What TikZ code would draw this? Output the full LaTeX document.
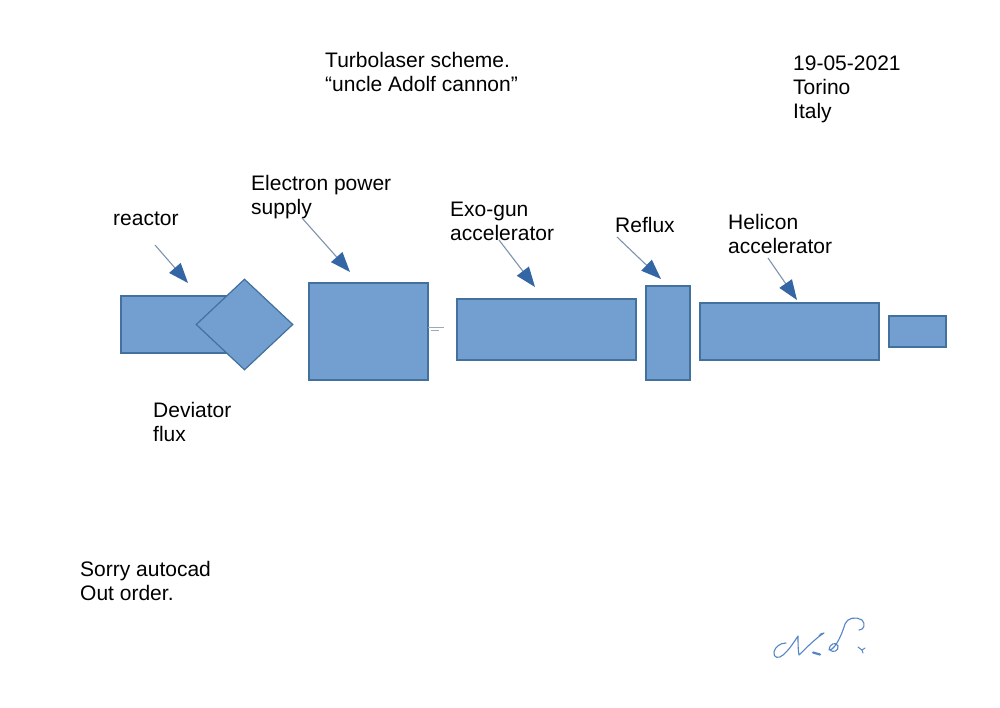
\documentclass[tikz,border=0pt]{standalone}
\usepackage{fontspec}
\setmainfont{Liberation Sans}
\usetikzlibrary{arrows.meta,shapes.geometric}
\definecolor{boxfill}{HTML}{729FCF}
\definecolor{boxline}{HTML}{41719C}
\definecolor{tipblue}{HTML}{3465A4}
\definecolor{shaft}{HTML}{7F93AD}
\definecolor{sig}{HTML}{5585C6}
\begin{document}
\begin{tikzpicture}[x=1pt,y=-1pt,
  box/.style={draw=boxline,fill=boxfill,line width=1.2pt,inner sep=0pt},
  lbl/.style={anchor=base west,inner sep=0pt,font=\fontsize{21}{24}\selectfont,align=left},
  ptr/.style={draw=shaft,line width=1.1pt,-{Triangle[length=20pt,width=15pt,color=tipblue]}},
  tick/.style={draw=shaft!80,line width=1pt},
  sigline/.style={draw=sig,line width=1.1pt,line cap=round,line join=round}]
\useasboundingbox (0,0) rectangle (1000,707);
\fill[white] (0,0) rectangle (1000,707);

% texts (base anchor = baseline of the last line)
\node[lbl] (title) at (325,91) {Turbolaser scheme.\\“uncle Adolf cannon”};
\node[lbl] (date) at (793,118) {19-05-2021\\Torino\\Italy};
\node[lbl] (lreactor) at (113,225) {reactor};
\node[lbl] (leps) at (251,214) {Electron power\\supply};
\node[lbl] (lexo) at (450,240) {Exo-gun\\accelerator};
\node[lbl] (lreflux) at (615,232) {Reflux};
\node[lbl] (lhel) at (728,253) {Helicon\\accelerator};
\node[lbl] (ldev) at (153,441) {Deviator\\flux};
\node[lbl] (lsorry) at (80,600) {Sorry autocad\\Out order.};

% boxes
\node[box,minimum width=119pt,minimum height=57pt] (reactor) at (180.5,324.5) {};
\node[box,diamond,minimum width=97pt,minimum height=91pt] (deviator) at (244.5,324.5) {};
\node[box,minimum width=119pt,minimum height=97pt] (eps) at (368.5,331.5) {};
\node[box,minimum width=179pt,minimum height=61pt] (exo) at (546.5,329.5) {};
\node[box,minimum width=44pt,minimum height=94pt] (reflux) at (668,333) {};
\node[box,minimum width=179pt,minimum height=57pt] (helicon) at (789.5,331.5) {};
\node[box,minimum width=57pt,minimum height=31pt] (muzzle) at (917.5,331.5) {};

% small stray lines beside the power supply
\coordinate (t1a) at (428,327); \coordinate (t1b) at (444,327);
\coordinate (t2a) at (431,330.5); \coordinate (t2b) at (439,330.5);
\draw[tick] (t1a) -- (t1b);
\draw[tick,line width=0.8pt] (t2a) -- (t2b);

% pointers
\coordinate (sr) at (155,245); \coordinate (er) at (188,283);
\coordinate (se) at (302,218); \coordinate (ee) at (350,272);
\coordinate (sx) at (499,240); \coordinate (ex) at (535,287);
\coordinate (sf) at (617,237); \coordinate (ef) at (661,279);
\coordinate (sh) at (768,258); \coordinate (eh) at (797,300);
\coordinate (sd) at (227,387); \coordinate (ed) at (233,369);
\draw[ptr] (sr) -- (er);
\draw[ptr] (se) -- (ee);
\draw[ptr] (sx) -- (ex);
\draw[ptr] (sf) -- (ef);
\draw[ptr] (sh) -- (eh);
\draw[draw=none,-{Triangle[length=17pt,width=14pt,color=tipblue]}] (sd) -- (ed);

% signature "N.S."
\draw[sigline]
  (786,643) .. controls (780,643) and (775,647) .. (774,652)
  .. controls (773,658) and (779,659) .. (783,655)
  .. controls (789,650) and (794,642) .. (798,636)
  .. controls (798,643) and (798,650) .. (799,655)
  .. controls (806,648) and (816,638) .. (824,633)
  .. controls (822,633) and (820,634) .. (819,636);
\draw[sig,line width=2.2pt,line cap=round] (813,652.5) -- (820,654.5);
\draw[sigline]
  (829,650) .. controls (829,644) and (836,641) .. (838,646)
  .. controls (839,651) and (833,653) .. (830,650)
  .. controls (836,648) and (842,634) .. (845,624)
  .. controls (847,618) and (856,616) .. (862,620)
  .. controls (866,624) and (864,630) .. (859,630);
\draw[sig,line width=1pt,line cap=round] (858,647) -- (862,650) -- (865,648);
\draw[sig,line width=1pt,line cap=round] (862,650) -- (863,653);
\end{tikzpicture}
\end{document}
